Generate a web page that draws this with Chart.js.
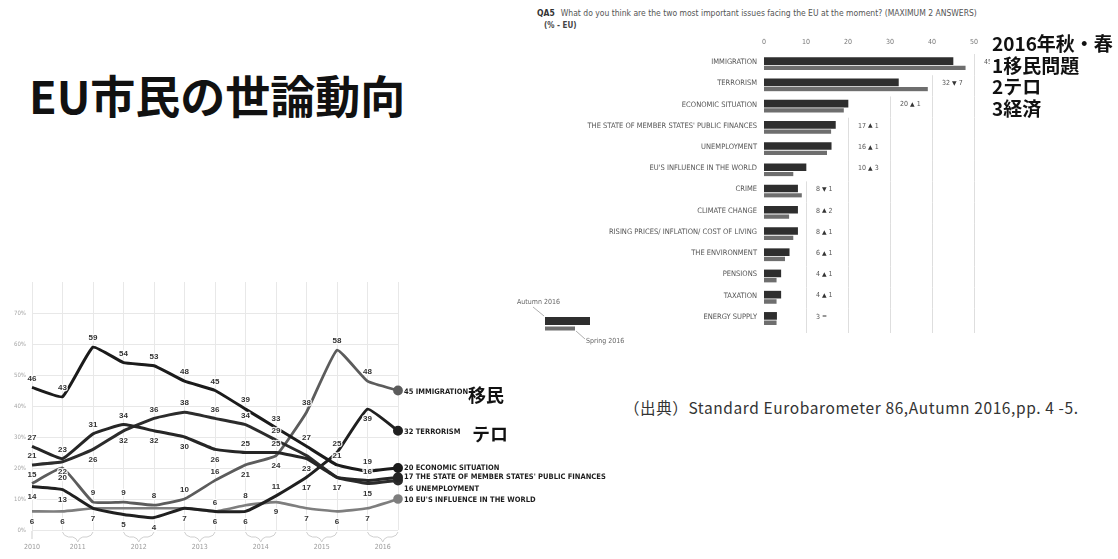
<!DOCTYPE html>
<html lang="ja">
<head>
<meta charset="utf-8">
<title>EU市民の世論動向</title>
<script src="https://cdn.jsdelivr.net/npm/chart.js@4/dist/chart.umd.min.js"></script>
<style>
  html, body { margin: 0; padding: 0; background: #fff; }
  body { width: 1118px; height: 559px; position: relative; overflow: hidden;
         font-family: 'Noto Sans CJK JP', 'Noto Sans', sans-serif; color: #111; }
  .txt { position: absolute; white-space: nowrap; }
  #title { left: 29px; top: 62px; font-size: 45px; font-weight: 700; }
  #summary { left: 990px; top: 32px; font-size: 19px; font-weight: 700; line-height: 21.7px; background: #fff; padding-left: 2px; }
  #tagImm { left: 468px; top: 381px; font-size: 18px; font-weight: 700; }
  #tagTer { left: 472px; top: 420px; font-size: 18px; font-weight: 700; }
  #source { left: 624px; top: 396px; font-size: 15.5px; letter-spacing: 0.6px; color: #333; }
  #qa { left: 537px; top: 8px; font-family: 'Liberation Sans Narrow', 'DejaVu Sans Condensed', sans-serif; font-size: 8.5px; color: #555; }
  #qa b { color: #333; margin-right: 6px; }
  #unit { left: 544px; top: 21px; font-family: 'Liberation Sans Narrow', 'DejaVu Sans Condensed', sans-serif; font-size: 8px; font-weight: 700; color: #444; }
  #trendBox { position: absolute; left: 0; top: 270px; width: 620px; height: 289px; }
  #issueBox { position: absolute; left: 500px; top: 30px; width: 500px; height: 320px; }
</style>
</head>
<body>

<div id="title" class="txt">EU市民の世論動向</div>
<div id="qa" class="txt"><b>QA5</b>What do you think are the two most important issues facing the EU at the moment? (MAXIMUM 2 ANSWERS)</div>
<div id="unit" class="txt">(% - EU)</div>

<div id="trendBox"><canvas id="trend" width="620" height="289"></canvas></div>
<div id="issueBox"><canvas id="issues" width="500" height="320"></canvas></div>

<div id="summary" class="txt">2016年秋・春<br>1移民問題<br>2テロ<br>3経済</div>
<div id="tagImm" class="txt">移民</div>
<div id="tagTer" class="txt">テロ</div>
<div id="source" class="txt">（出典）Standard Eurobarometer 86,Autumn 2016,pp. 4 -5.</div>

<script>
// ---- Trend: most important issues facing the EU, autumn 2010 – autumn 2016 (%) ----
const periods = ['Aut 2010', 'Sp 2011', 'Aut 2011', 'Sp 2012', 'Aut 2012', 'Sp 2013', 'Aut 2013',
                 'Sp 2014', 'Aut 2014', 'Sp 2015', 'Aut 2015', 'Sp 2016', 'Aut 2016'];
const yearLabels = ['2010', '2011', '2012', '2013', '2014', '2015', '2016'];
const yearPeriods = [[0], [1, 2], [3, 4], [5, 6], [7, 8], [9, 10], [11, 12]];

const economicSituation = [46, 43, 59, 54, 53, 48, 45, 39, 33, 27, 21, 19, 20];
const publicFinances    = [27, 23, 31, 34, 32, 30, 26, 25, 25, 23, 17, 16, 17];
const unemployment      = [21, 22, 26, 32, 36, 38, 36, 34, 29, 24, 17, 15, 16];
const immigration       = [15, 20,  9,  9,  8, 10, 16, 21, 24, 38, 58, 48, 45];
const terrorism         = [14, 13,  7,  5,  4,  7,  6,  6, 11, 17, 25, 39, 32];
const euInfluence       = [ 6,  6,  7,  7,  7,  7,  6,  8,  9,  7,  6,  7, 10];
const trendTicks = [0, 10, 20, 30, 40, 50, 60, 70];

// ---- Autumn 2016 vs spring 2016 (%) ----
const issueNames = ['IMMIGRATION', 'TERRORISM', 'ECONOMIC SITUATION', "THE STATE OF MEMBER STATES' PUBLIC FINANCES",
                    'UNEMPLOYMENT', "EU'S INFLUENCE IN THE WORLD", 'CRIME', 'CLIMATE CHANGE',
                    'RISING PRICES/ INFLATION/ COST OF LIVING', 'THE ENVIRONMENT', 'PENSIONS', 'TAXATION', 'ENERGY SUPPLY'];
const autumn2016 = [45, 32, 20, 17, 16, 10, 8, 8, 8, 6, 4, 4, 3];
const spring2016 = [48, 39, 19, 16, 15,  7, 9, 6, 7, 5, 3, 3, 3];
const issueTicks = [0, 10, 20, 30, 40, 50];

const NARROW = "'Liberation Sans Narrow', 'DejaVu Sans Condensed', sans-serif";

// label side for each point except the last (a = above, b = below, n = none)
function line(label, data, color, width, places, endShift) {
  return {
    label, data, borderColor: color, backgroundColor: color, borderWidth: width,
    tension: 0.12, fill: false,
    pointRadius: data.map((_, i) => i === data.length - 1 ? 3.5 : 0),
    pointHoverRadius: 0,
    labelPlaces: places.split(''), endShift
  };
}

const trendLabels = {
  id: 'trendLabels',
  afterDatasetsDraw(chart) {
    const ctx = chart.ctx;
    ctx.save();
    chart.data.datasets.forEach((ds, di) => {
      const pts = chart.getDatasetMeta(di).data;
      ctx.font = "bold 8px 'Liberation Sans', sans-serif";
      ctx.textAlign = 'center';
      ctx.textBaseline = 'middle';
      ctx.lineJoin = 'round';
      pts.forEach((p, i) => {
        const place = ds.labelPlaces[i];
        if (!place || place === 'n') return;
        const y = p.y + (place === 'a' ? -9 : 10);
        ctx.strokeStyle = 'rgba(255,255,255,0.9)';
        ctx.lineWidth = 2.5;
        ctx.strokeText(String(ds.data[i]), p.x, y);
        ctx.fillStyle = '#333';
        ctx.fillText(String(ds.data[i]), p.x, y);
      });
      const last = pts[pts.length - 1];
      ctx.textAlign = 'left';
      ctx.font = 'bold 7.5px ' + NARROW;
      ctx.fillStyle = '#1c1c1c';
      ctx.fillText(ds.data[ds.data.length - 1] + ' ' + ds.label, last.x + 6, last.y + ds.endShift);
    });
    ctx.restore();
  }
};

const yearAxis = {
  id: 'yearAxis',
  afterDraw(chart) {
    const ctx = chart.ctx, xs = chart.scales.x, yBase = chart.chartArea.bottom;
    ctx.save();
    ctx.strokeStyle = '#cfcfcf';
    ctx.lineWidth = 1;
    ctx.fillStyle = '#9a9a9a';
    ctx.font = '7px ' + NARROW;
    ctx.textAlign = 'center';
    ctx.textBaseline = 'middle';
    yearPeriods.forEach((idx, k) => {
      const x1 = xs.getPixelForValue(idx[0]);
      const x2 = xs.getPixelForValue(idx[idx.length - 1]);
      const mid = (x1 + x2) / 2;
      ctx.beginPath();
      if (idx.length === 1) {
        ctx.moveTo(x1, yBase + 1); ctx.lineTo(x1, yBase + 9);
      } else {
        ctx.moveTo(x1, yBase + 2);
        ctx.quadraticCurveTo(x1 + 1, yBase + 6, x1 + 6, yBase + 7);
        ctx.lineTo(mid - 5, yBase + 7);
        ctx.quadraticCurveTo(mid - 1, yBase + 8, mid, yBase + 12);
        ctx.quadraticCurveTo(mid + 1, yBase + 8, mid + 5, yBase + 7);
        ctx.lineTo(x2 - 6, yBase + 7);
        ctx.quadraticCurveTo(x2 - 1, yBase + 6, x2, yBase + 2);
      }
      ctx.stroke();
      ctx.fillText(yearLabels[k], mid, yBase + 17);
    });
    ctx.restore();
  }
};

new Chart(document.getElementById('trend'), {
  type: 'line',
  data: {
    labels: periods,
    datasets: [
      line('ECONOMIC SITUATION', economicSituation, '#1b1b1b', 3, 'aaaaaaaaaaaa', 0),
      line("THE STATE OF MEMBER STATES' PUBLIC FINANCES", publicFinances, '#262626', 3, 'aaaabbbaabba', 0),
      line('UNEMPLOYMENT', unemployment, '#2c2c2c', 3, 'abbbaaaaanbb', 9),
      line('TERRORISM', terrorism, '#202020', 3, 'bbbbbbbbabab', 1),
      line('IMMIGRATION', immigration, '#5c5c5c', 2.8, 'abaaaaabbaaa', 2),
      line("EU'S INFLUENCE IN THE WORLD", euInfluence, '#7e7e7e', 2.6, 'bbnnnnaabbbb', 1)
    ]
  },
  options: {
    responsive: false, animation: false,
    layout: { padding: { top: 12, right: 222, left: 0, bottom: 0 } },
    plugins: { legend: { display: false }, tooltip: { enabled: false } },
    scales: {
      x: {
        type: 'category', offset: false,
        ticks: { display: false },
        grid: { color: '#e8e8e8', drawTicks: false },
        border: { display: false },
        afterFit: s => { s.height = 29; }
      },
      y: {
        min: 0, max: 80,
        afterBuildTicks: s => { s.ticks = trendTicks.concat([80]).map(v => ({ value: v })); },
        ticks: { callback: v => v === 80 ? '' : v + '%', font: { size: 6, family: NARROW }, color: '#a5a5a5', padding: 6 },
        grid: { color: c => c.tick && c.tick.value === 80 ? 'rgba(0,0,0,0)' : '#e8e8e8', drawTicks: false },
        border: { display: false },
        afterFit: s => { s.width = 32; }
      }
    }
  },
  plugins: [trendLabels, yearAxis]
});

// Bar chart helpers: stepped guide lines, value/change labels and a small key
const issueExtras = {
  id: 'issueExtras',
  beforeDatasetsDraw(chart) {
    const ctx = chart.ctx, xs = chart.scales.x, ys = chart.scales.y;
    const band = (ys.getPixelForValue(1) - ys.getPixelForValue(0));
    ctx.save();
    ctx.strokeStyle = '#dedede';
    ctx.lineWidth = 1;
    issueNames.forEach((_, i) => {
      const c = ys.getPixelForValue(i);
      const top = c - band / 2, bottom = c + band / 2 + (i === issueNames.length - 1 ? 3 : 0);
      const rowMax = Math.max(autumn2016[i], spring2016[i]);
      issueTicks.forEach(g => {
        if (g > rowMax) {
          const x = Math.round(xs.getPixelForValue(g)) + 0.5;
          ctx.beginPath(); ctx.moveTo(x, top); ctx.lineTo(x, bottom); ctx.stroke();
        }
      });
    });
    ctx.restore();
  },
  afterDatasetsDraw(chart) {
    const ctx = chart.ctx, xs = chart.scales.x, ys = chart.scales.y;
    ctx.save();
    ctx.textBaseline = 'middle';
    ctx.textAlign = 'left';
    issueNames.forEach((_, i) => {
      const rowMax = Math.max(autumn2016[i], spring2016[i]);
      const g = issueTicks.find(t => t > rowMax);
      const x = xs.getPixelForValue(g) + 10;
      const y = ys.getPixelForValue(i) - 2.5;
      const diff = autumn2016[i] - spring2016[i];
      ctx.font = '7px ' + NARROW;
      ctx.fillStyle = '#555';
      const v = String(autumn2016[i]) + ' ';
      ctx.fillText(v, x, y);
      let cx = x + ctx.measureText(v).width;
      const mark = diff > 0 ? '▲' : diff < 0 ? '▼' : '=';
      ctx.font = '6px DejaVu Sans, sans-serif';
      ctx.fillStyle = '#333';
      ctx.fillText(mark, cx, y);
      cx += ctx.measureText(mark).width + 2;
      if (diff !== 0) {
        ctx.font = '7px ' + NARROW;
        ctx.fillStyle = '#555';
        ctx.fillText(String(Math.abs(diff)), cx, y);
      }
    });

    // key
    const ds = chart.data.datasets;
    ctx.fillStyle = ds[0].backgroundColor;
    ctx.fillRect(45, 287, 45, 8);
    ctx.fillStyle = ds[1].backgroundColor;
    ctx.fillRect(45, 296.5, 30, 4);
    ctx.strokeStyle = '#9a9a9a';
    ctx.lineWidth = 0.8;
    ctx.beginPath(); ctx.moveTo(33, 277); ctx.lineTo(44, 286); ctx.stroke();
    ctx.beginPath(); ctx.moveTo(76, 301); ctx.lineTo(85, 309); ctx.stroke();
    ctx.font = '7px ' + NARROW;
    ctx.fillStyle = '#666';
    ctx.fillText(ds[0].label, 17, 272);
    ctx.fillText(ds[1].label, 86, 311);
    ctx.restore();
  }
};

new Chart(document.getElementById('issues'), {
  type: 'bar',
  data: {
    labels: issueNames,
    datasets: [
      { label: 'Autumn 2016', data: autumn2016, backgroundColor: '#2e2e2e', barThickness: 7 },
      { label: 'Spring 2016', data: spring2016, backgroundColor: '#6e6e6e', barThickness: 5.5,
        borderColor: '#ffffff', borderWidth: { top: 1.5, right: 0, bottom: 0, left: 0 }, borderSkipped: 'start' }
    ]
  },
  options: {
    indexAxis: 'y', responsive: false, animation: false,
    layout: { padding: { top: 0, right: 26, left: 0, bottom: 20 } },
    plugins: { legend: { display: false }, tooltip: { enabled: false } },
    scales: {
      x: {
        position: 'top', min: 0, max: 50,
        afterBuildTicks: s => { s.ticks = issueTicks.map(v => ({ value: v })); },
        ticks: { font: { size: 7, family: NARROW }, color: '#777', padding: 8 },
        grid: { display: false, drawTicks: false },
        border: { display: false },
        afterFit: s => { s.height = 24; }
      },
      y: {
        ticks: { font: { size: 7.5, family: NARROW }, color: '#555', padding: 7, labelOffset: -2.5, autoSkip: false },
        grid: { display: false, drawTicks: false },
        border: { display: false },
        afterFit: s => { s.width = 264; }
      }
    }
  },
  plugins: [issueExtras]
});
</script>
</body>
</html>
